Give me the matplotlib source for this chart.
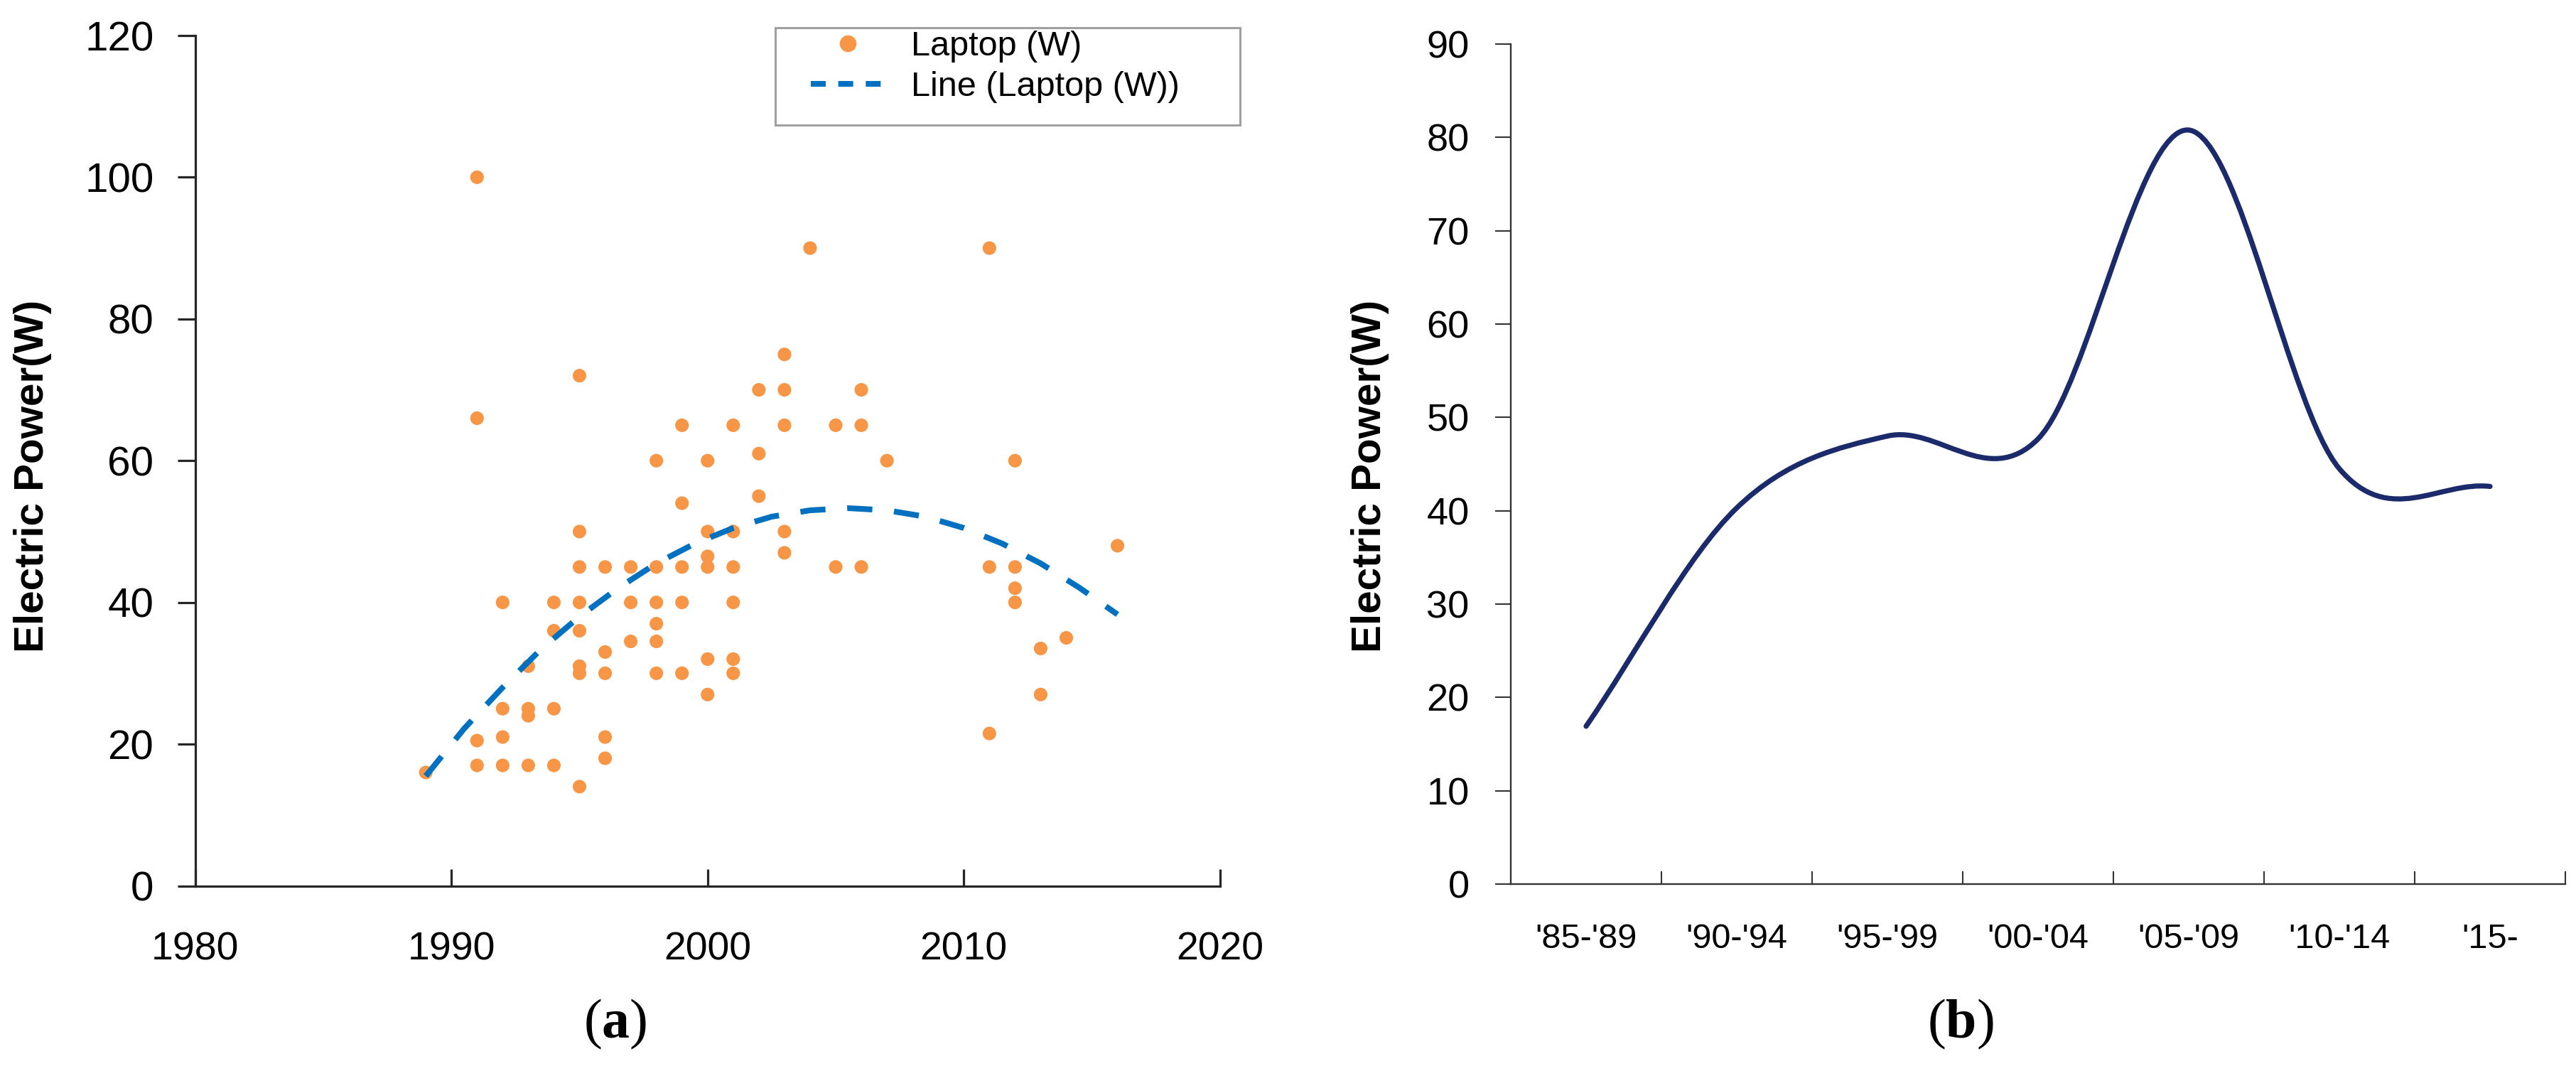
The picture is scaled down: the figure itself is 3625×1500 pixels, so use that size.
import numpy as np
import matplotlib
matplotlib.use("Agg")
import matplotlib.pyplot as plt
from matplotlib.path import Path
from matplotlib.patches import PathPatch, Rectangle
from matplotlib.lines import Line2D

# ---------------- data ----------------
years = [1989,
         1991, 1991, 1991, 1991,
         1992, 1992, 1992, 1992,
         1993, 1993, 1993, 1993,
         1994, 1994, 1994, 1994,
         1995, 1995, 1995, 1995, 1995, 1995, 1995, 1995,
         1996, 1996, 1996, 1996, 1996,
         1997, 1997, 1997,
         1998, 1998, 1998, 1998, 1998, 1998,
         1999, 1999, 1999, 1999, 1999,
         2000, 2000, 2000, 2000, 2000, 2000,
         2001, 2001, 2001, 2001, 2001, 2001,
         2002, 2002, 2002,
         2003, 2003, 2003, 2003, 2003,
         2004,
         2005, 2005,
         2006, 2006, 2006,
         2007,
         2011, 2011, 2011,
         2012, 2012, 2012, 2012,
         2013, 2013,
         2014,
         2016]
watts = [16,
         100, 66, 20.5, 17,
         40, 25, 21, 17,
         31, 25, 24, 17,
         40, 36, 25, 17,
         72, 50, 45, 40, 36, 31, 30, 14,
         45, 33, 30, 21, 18,
         45, 40, 34.5,
         60, 45, 40, 37, 34.5, 30,
         65, 54, 45, 40, 30,
         60, 50, 46.5, 45, 32, 27,
         65, 50, 45, 40, 32, 30,
         70, 61, 55,
         75, 70, 65, 50, 47,
         90,
         65, 45,
         70, 65, 45,
         60,
         90, 45, 21.5,
         60, 45, 42, 40,
         33.5, 27,
         35,
         48]

# trend line values
trend_years = [1989, 1990.5, 1992, 1993.5, 1995, 1996.5, 1998, 1999.5, 2001,
               2002.5, 2004, 2005.5, 2007, 2008.5, 2010, 2011.5, 2013,
               2014.5, 2016]
trend_watts = [15.5, 22.2, 28.0, 33.4, 38.0, 42.0, 45.5, 48.3, 50.5,
               52.1, 53.0, 53.3, 53.0, 52.1, 50.5, 48.3, 45.5,
               42.1, 38.3]

x_ticks_a = [1980, 1990, 2000, 2010, 2020]
y_ticks_a = [0, 20, 40, 60, 80, 100, 120]

periods = ["'85-'89", "'90-'94", "'95-'99", "'00-'04", "'05-'09", "'10-'14", "'15-"]
period_power = [16.9, 40.3, 48.0, 47.7, 80.8, 44.5, 42.6]
y_ticks_b = [0, 10, 20, 30, 40, 50, 60, 70, 80, 90]

# ---------------- figure ----------------
W, H, DPI = 3625, 1500, 100
plt.rcParams['font.family'] = ['Liberation Sans', 'DejaVu Sans']
plt.rcParams['mathtext.fontset'] = 'custom'
plt.rcParams['mathtext.rm'] = 'Liberation Serif'
plt.rcParams['mathtext.bf'] = 'Liberation Serif:bold'

fig = plt.figure(figsize=(W / DPI, H / DPI), dpi=DPI)
fig.patch.set_facecolor('white')


def rect(x0, y0, x1, y1):
    return [x0 / W, 1 - y1 / H, (x1 - x0) / W, (y1 - y0) / H]


# ---------------- panel (a) ----------------
ax1 = fig.add_axes(rect(274.7, 50, 1716.8, 1246.5))
orange = '#F79646'
blue = '#0070C0'
ax1.scatter(years, watts, s=190, color=orange, edgecolors='none', zorder=3,
            clip_on=False)
ax1.plot(trend_years, trend_watts, color=blue, lw=5.8, dashes=(4.4, 3.8),
         zorder=4)

ax1.set_xlim(1980, 2020)
ax1.set_ylim(0, 120)
ax1.set_xticks(x_ticks_a)
ax1.set_yticks(y_ticks_a)
for s in ['top', 'right']:
    ax1.spines[s].set_visible(False)
for s in ['left', 'bottom']:
    ax1.spines[s].set_color('#262626')
    ax1.spines[s].set_linewidth(2.3)
ax1.tick_params(axis='x', direction='in', length=17, width=2.3, color='#262626',
                labelsize=40, pad=46)
ax1.tick_params(axis='y', direction='out', length=18, width=2.3, color='#262626',
                labelsize=42, pad=24)

fig.text(46 / W, 1 - 670 / H, 'Electric Power(W)', rotation=90, ha='center',
         va='center', fontsize=42, fontweight='bold')

# legend (frame drawn separately)
handles = [Line2D([], [], ls='none', marker='o', ms=17, color=orange, mec='none'),
           Line2D([], [], color=blue, lw=5.8, dashes=(2.6, 2.2))]
leg = ax1.legend(handles, ['Laptop (W)', 'Line (Laptop (W))'], loc='upper left',
                 bbox_to_anchor=(1141 / W, 1 - 43 / H), bbox_transform=fig.transFigure,
                 frameon=False, fontsize=35, handlelength=2.15, handletextpad=0.75,
                 labelspacing=0.25, borderpad=0.0, borderaxespad=0.0, numpoints=1)
fig.patches.append(Rectangle((1090.7 / W, 1 - 175.7 / H), (1745 - 1090.7) / W,
                             (175.7 - 39) / H, transform=fig.transFigure,
                             fill=False, ec='#A0A0A0', lw=2.2))

fig.text(866 / W, 1 - 1441 / H, r'($\mathbf{a}$)', ha='center', va='center',
         fontsize=56, family='Liberation Serif')

# ---------------- panel (b) ----------------
ax2 = fig.add_axes(rect(2126, 62.2, 3610, 1243.8))
navy = '#1B2A6B'
xc = np.arange(len(period_power), dtype=float)
yc = np.array(period_power, dtype=float)
n = len(yc)
tx = np.ones(n)
ty = np.zeros(n)
for i in range(n):
    if i == 0:
        ty[i] = yc[1] - yc[0]
    elif i == n - 1:
        ty[i] = yc[-1] - yc[-2]
    else:
        ty[i] = (yc[i + 1] - yc[i - 1]) / 2
verts = [(xc[0], yc[0])]
codes = [Path.MOVETO]
for i in range(n - 1):
    verts += [(xc[i] + tx[i] / 3, yc[i] + ty[i] / 3),
              (xc[i + 1] - tx[i + 1] / 3, yc[i + 1] - ty[i + 1] / 3),
              (xc[i + 1], yc[i + 1])]
    codes += [Path.CURVE4] * 3
ax2.add_patch(PathPatch(Path(verts, codes), facecolor='none', edgecolor=navy,
                        lw=5.2, capstyle='round', joinstyle='round'))

ax2.set_xlim(-0.5, n - 0.5)
ax2.set_ylim(0, 90)
ax2.set_yticks(y_ticks_b)
ax2.set_xticks(xc)
ax2.set_xticklabels(periods)
ax2.set_xticks(np.arange(0.5, n, 1.0), minor=True)
for s in ['top', 'right']:
    ax2.spines[s].set_visible(False)
for s in ['left', 'bottom']:
    ax2.spines[s].set_color('#333333')
    ax2.spines[s].set_linewidth(1.7)
ax2.tick_params(axis='x', which='major', length=0, labelsize=35, pad=40)
ax2.tick_params(axis='x', which='minor', direction='in', length=13, width=1.5,
                color='#333333')
ax2.tick_params(axis='y', direction='out', length=16, width=1.5, color='#333333',
                labelsize=39, pad=26)

fig.text(1928 / W, 1 - 670 / H, 'Electric Power(W)', rotation=90, ha='center',
         va='center', fontsize=42, fontweight='bold')
fig.text(2759 / W, 1 - 1441 / H, r'($\mathbf{b}$)', ha='center', va='center',
         fontsize=56, family='Liberation Serif')

fig.savefig('out.png', dpi=DPI, facecolor='white')
